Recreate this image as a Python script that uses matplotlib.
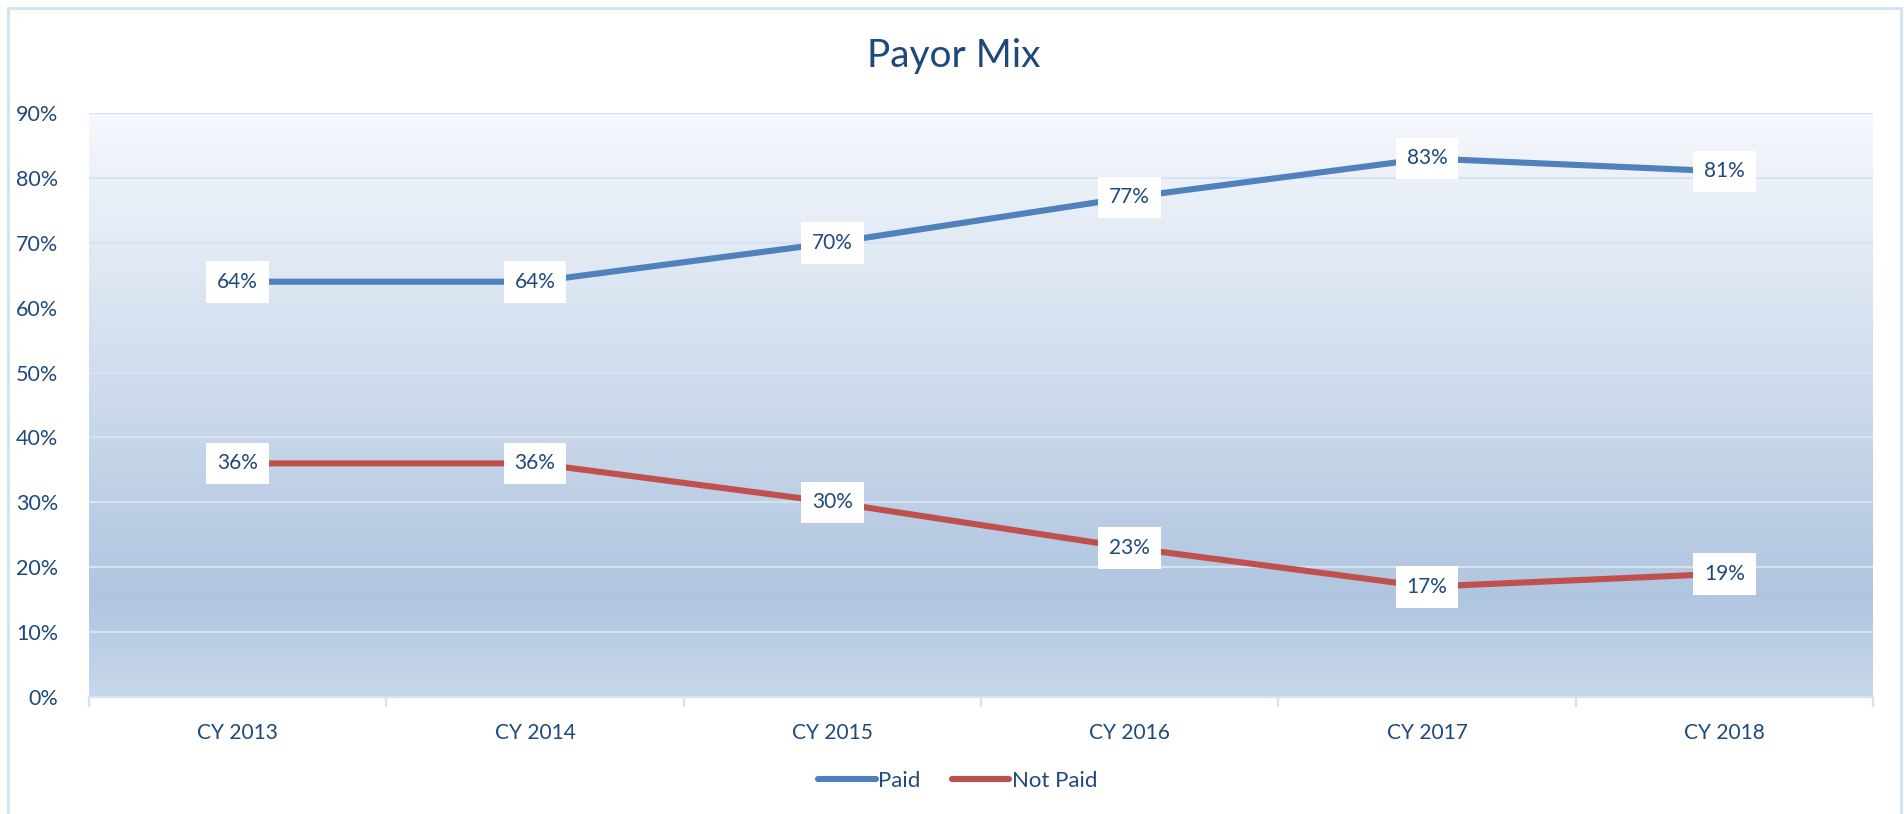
import numpy as np
import matplotlib
matplotlib.use("Agg")
import matplotlib.pyplot as plt
from matplotlib.colors import LinearSegmentedColormap
from matplotlib.patches import Rectangle
from matplotlib.ticker import FixedLocator, FuncFormatter

# datos
years = ["CY 2013", "CY 2014", "CY 2015", "CY 2016", "CY 2017", "CY 2018"]
paid = [64, 64, 70, 77, 83, 81]
not_paid = [36, 36, 30, 23, 17, 19]
y_ticks = [0, 10, 20, 30, 40, 50, 60, 70, 80, 90]

txt_col = "#1f497d"
grid_col = "#d5e2f1"
plt.rcParams["font.family"] = ["Lato", "DejaVu Sans"]

fig = plt.figure(figsize=(19.04, 8.14), dpi=100)
fig.patch.set_facecolor("white")

# marco exterior
fig.patches.append(Rectangle((8 / 1904, -0.01), (1901 - 8) / 1904, 1 - 8 / 814 + 0.01,
                             transform=fig.transFigure, fill=False,
                             edgecolor="#d3e1f2", linewidth=2))

ax = fig.add_axes([89 / 1904, 1 - 697 / 814, (1873 - 89) / 1904, (697 - 113) / 814])
x = np.arange(len(years))
ax.set_xlim(-0.5, len(years) - 0.5)
ax.set_ylim(0, 90)

# fondo degradado
cmap = LinearSegmentedColormap.from_list("bg", [(0, "#c8d8ec"), (0.17, "#b0c5e0"), (1, "#f5f8fc")])
grad = np.linspace(0, 1, 256).reshape(-1, 1)
ax.imshow(grad, cmap=cmap, aspect="auto", origin="lower",
          extent=[-0.5, len(years) - 0.5, 0, 90], zorder=0)

for t in y_ticks[1:]:
    ax.axhline(t, color=grid_col, lw=1.6, zorder=1)

ax.plot(x, paid, color="#4f81bd", lw=4.4, zorder=3, label="Paid", solid_capstyle="round")
ax.plot(x, not_paid, color="#c0504d", lw=4.4, zorder=3, label="Not Paid", solid_capstyle="round")

for serie in (paid, not_paid):
    for xi, v in zip(x, serie):
        ax.text(xi, v, f"{v}%", ha="center", va="center", fontsize=15, color=txt_col, zorder=4,
                bbox=dict(boxstyle="square,pad=0.52", facecolor="white", edgecolor="none"))

for s in ["top", "right", "left"]:
    ax.spines[s].set_visible(False)
ax.spines["bottom"].set_color(grid_col)
ax.spines["bottom"].set_linewidth(1.6)

ax.yaxis.set_major_locator(FixedLocator(y_ticks))
ax.yaxis.set_major_formatter(FuncFormatter(lambda v, p: f"{v:.0f}%"))
ax.tick_params(axis="y", length=0, pad=22, labelsize=15.5, labelcolor=txt_col)

ax.set_xticks(x)
ax.set_xticklabels(years)
ax.set_xticks(np.arange(-0.5, len(years)), minor=True)
ax.tick_params(axis="x", which="major", length=0, pad=19, labelsize=15, labelcolor=txt_col)
ax.tick_params(axis="x", which="minor", length=7, width=1.6, color=grid_col)

fig.text(0.501, 1 - 56 / 814, "Payor Mix", ha="center", va="center", fontsize=28, color=txt_col)

leg = fig.legend(loc="center", bbox_to_anchor=(0.503, 1 - 781 / 814), ncol=2, frameon=False,
                 fontsize=16, labelcolor=txt_col, handlelength=2.6, handletextpad=0.1,
                 columnspacing=1.4)
for h in leg.get_lines():
    h.set_linewidth(4.4)
    h.set_solid_capstyle("round")

fig.savefig("out.png", dpi=100, facecolor="white")
